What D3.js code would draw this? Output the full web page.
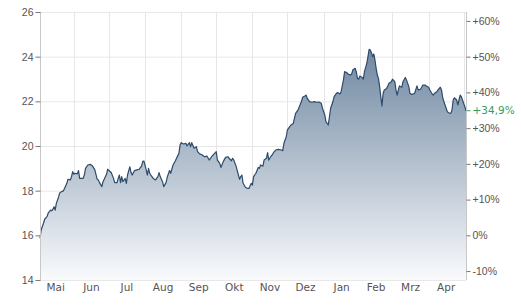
<!DOCTYPE html>
<html>
<head>
<meta charset="utf-8">
<script src="https://cdn.jsdelivr.net/npm/d3@7"></script>
<style>
	body { margin: 0; background: #fff; }
	svg { display: block; font-family: "DejaVu Sans", Verdana, sans-serif; }
</style>
</head>
<body>
<div id="chart"></div>
<script>
// 1 Jahr, Schlusskurse (Tage ab Start, Kurs)
var startDate = new Date(2012, 4, 3);
var basePrice = 16.0;
var closes = [
	[0,15.87],[1,16.24],[3,16.54],[4,16.72],[6,16.84],[7,16.99],[9,17.13],[10,17.10],[11,17.16],[12,17.28],
	[13,17.13],[14,17.43],[16,17.73],[17,17.91],[19,17.97],[20,17.99],[21,18.10],[23,18.33],[24,18.51],[26,18.48],
	[27,18.63],[28,18.85],[29,18.73],[30,18.78],[32,18.75],[33,18.90],[34,18.55],[37,18.55],[38,18.70],[39,19.00],
	[41,19.15],[43,19.18],[45,19.10],[47,18.93],[49,18.51],[50,18.48],[51,18.36],[53,18.18],[54,18.40],[57,18.73],
	[58,18.96],[59,18.90],[61,18.81],[63,18.55],[64,18.36],[66,18.36],[67,18.55],[68,18.70],[69,18.36],[70,18.63],
	[71,18.40],[73,18.55],[74,18.33],[75,18.70],[77,19.07],[78,18.81],[79,18.70],[81,18.90],[83,18.93],[85,18.96],
	[87,19.10],[88,19.30],[89,19.33],[91,18.93],[92,18.70],[93,19.00],[94,18.78],[95,18.70],[97,18.55],[99,18.48],
	[101,18.63],[102,18.81],[103,18.63],[105,18.40],[106,18.18],[108,18.36],[109,18.60],[111,18.90],[112,18.78],[114,19.15],
	[116,19.34],[117,19.45],[119,19.67],[120,20.04],[121,20.15],[123,20.09],[125,20.12],[126,20.00],[128,20.15],[129,19.97],
	[130,20.15],[132,19.90],[134,19.97],[135,19.75],[137,19.64],[139,19.60],[141,19.52],[143,19.55],[145,19.37],[147,19.52],
	[149,19.64],[151,19.75],[152,19.37],[154,19.22],[155,19.04],[157,19.30],[159,19.49],[161,19.52],[162,19.45],[164,19.34],
	[165,19.45],[166,19.37],[168,19.10],[169,18.90],[171,18.51],[172,18.63],[173,18.70],[174,18.33],[176,18.15],[178,18.10],
	[179,18.10],[181,18.33],[182,18.25],[183,18.63],[185,18.78],[187,19.04],[188,19.00],[189,19.15],[191,19.10],[192,19.37],
	[194,19.45],[195,19.70],[196,19.37],[198,19.55],[199,19.60],[200,19.70],[202,19.82],[204,19.85],[207,19.82],[208,19.79],
	[209,20.12],[211,20.42],[212,20.72],[214,20.87],[215,20.94],[217,21.01],[218,21.24],[219,21.46],[221,21.61],[222,21.73],
	[224,21.99],[225,22.18],[227,22.24],[228,22.28],[229,22.13],[231,21.99],[233,21.96],[235,21.99],[237,21.96],[239,21.97],
	[241,21.91],[242,21.69],[244,21.39],[245,21.09],[247,20.94],[248,21.31],[249,21.69],[251,21.99],[252,22.21],[254,22.36],
	[255,22.39],[257,22.33],[258,22.43],[260,22.96],[261,23.33],[263,23.28],[264,23.22],[266,23.18],[267,23.22],[268,23.40],
	[270,23.48],[271,23.33],[272,23.03],[273,22.99],[274,23.13],[276,23.07],[277,22.99],[278,23.33],[280,23.70],[281,24.00],
	[282,24.33],[283,24.30],[284,24.18],[285,24.00],[286,24.12],[287,23.85],[288,23.48],[289,23.18],[290,23.03],[291,22.66],
	[292,22.21],[293,21.79],[294,22.36],[295,22.51],[297,22.58],[298,22.69],[299,22.81],[301,22.88],[302,22.99],[304,22.88],
	[305,22.51],[306,22.28],[307,22.51],[308,22.69],[310,22.63],[311,22.88],[313,23.07],[314,22.96],[316,22.66],[317,22.36],
	[318,22.31],[320,22.33],[321,22.36],[323,22.69],[324,22.51],[326,22.54],[327,22.63],[328,22.73],[330,22.73],[331,22.69],
	[333,22.63],[334,22.51],[336,22.33],[337,22.28],[338,22.36],[340,22.43],[341,22.51],[343,22.63],[344,22.51],[345,22.18],
	[346,21.99],[348,21.69],[349,21.54],[350,21.49],[352,21.46],[353,21.61],[354,22.06],[355,22.16],[357,22.06],[358,21.84],
	[359,22.06],[360,22.28],[361,22.21],[362,22.06],[363,21.91],[364,21.76],[365,21.58]
];
var monthLabels = ["Mai","Jun","Jul","Aug","Sep","Okt","Nov","Dez","Jan","Feb","Mrz","Apr"];
var priceTicks = [14, 16, 18, 20, 22, 24, 26];
var pctTicks = [-0.1, 0, 0.1, 0.2, 0.3, 0.4, 0.5, 0.6];

+function(){
	var W = 521, H = 305;
	var left = 40, right = 466, top = 12, bottom = 280;

	var data = closes.map(function(d){
		return { date: d3.timeDay.offset(startDate, d[0]), close: d[1] };
	});
	var endDate = data[data.length - 1].date;

	var x = d3.scaleTime().domain([startDate, endDate]).range([left, right]);
	var y = d3.scaleLinear().domain([14, 26]).range([bottom, top]);
	var yPct = d3.scaleLinear().domain([14 / basePrice - 1, 26 / basePrice - 1]).range([bottom, top]);

	var svg = d3.select('#chart').append('svg').attr('width', W).attr('height', H);

	var grad = svg.append('defs').append('linearGradient')
		.attr('id', 'fillGrad').attr('x1', 0).attr('y1', 0).attr('x2', 0).attr('y2', 1);
	grad.append('stop').attr('offset', '0%').attr('stop-color', '#7088a2');
	grad.append('stop').attr('offset', '100%').attr('stop-color', '#f9fafc');

	// grid
	svg.append('g').selectAll('line').data(priceTicks).enter().append('line')
		.attr('x1', left).attr('x2', right)
		.attr('y1', function(d){ return y(d) + 0.5; }).attr('y2', function(d){ return y(d) + 0.5; })
		.attr('stroke', '#e8e8e8');

	var monthStarts = d3.timeMonth.range(d3.timeMonth.ceil(d3.timeDay.offset(startDate, 1)), endDate);
	svg.append('g').selectAll('line').data(monthStarts).enter().append('line')
		.attr('x1', function(d){ return Math.round(x(d)) + 0.5; }).attr('x2', function(d){ return Math.round(x(d)) + 0.5; })
		.attr('y1', top).attr('y2', bottom)
		.attr('stroke', '#e6e6e6');

	// area + line
	var area = d3.area()
		.x(function(d){ return x(d.date); })
		.y0(bottom)
		.y1(function(d){ return y(d.close); });
	var line = d3.line()
		.x(function(d){ return x(d.date); })
		.y(function(d){ return y(d.close); });

	svg.append('path').datum(data).attr('d', area).attr('fill', 'url(#fillGrad)');
	svg.append('path').datum(data).attr('d', line)
		.attr('fill', 'none').attr('stroke', '#2d4a6b').attr('stroke-width', 1.2)
		.attr('stroke-linejoin', 'round');

	// left axis
	var gl = svg.append('g').attr('transform', 'translate(' + (left + 0.5) + ',0)')
		.call(d3.axisLeft(y).tickValues(priceTicks).tickSize(5).tickPadding(2).tickFormat(d3.format('d')));
	gl.select('.domain').attr('stroke', '#c8c8c8').attr('d', 'M0,' + top + 'V' + bottom);
	gl.selectAll('.tick line').attr('stroke', '#777');
	gl.selectAll('.tick text').attr('fill', '#555').style('font-size', '10.5px');

	// right axis (% vs. base)
	var pctFmt = function(p){
		var v = Math.round(p * 100);
		return (v > 0 ? '+' : '') + v + '%';
	};
	var gr = svg.append('g').attr('transform', 'translate(' + (right + 0.5) + ',0)')
		.call(d3.axisRight(yPct).tickValues(pctTicks).tickSize(4).tickPadding(2).tickFormat(pctFmt));
	gr.select('.domain').attr('stroke', '#c8c8c8').attr('d', 'M0,' + top + 'V' + bottom);
	gr.selectAll('.tick line').attr('stroke', '#777');
	gr.selectAll('.tick text').attr('fill', '#555').style('font-size', '10.5px');

	// aktueller Wert
	var last = data[data.length - 1];
	var lastPct = last.close / basePrice - 1;
	var lastTxt = '+' + d3.format('.1f')(lastPct * 100).replace('.', ',') + '%';
	var gc = svg.append('g').attr('transform', 'translate(' + (right + 0.5) + ',' + y(last.close) + ')');
	gc.append('line').attr('x1', 0).attr('x2', 4).attr('stroke', '#3b9a5c');
	gc.append('text').attr('x', 6).attr('dy', '0.32em')
		.attr('fill', '#3b9a5c').style('font-size', '10.5px').text(lastTxt);

	// month labels (mid of month)
	var monthMids = monthLabels.map(function(m, i){
		var s = d3.timeMonth.offset(new Date(2012, 4, 1), i);
		var e = d3.timeMonth.offset(s, 1);
		return { label: m, x: (x(s) + x(e)) / 2 };
	});
	svg.append('g').selectAll('text').data(monthMids).enter().append('text')
		.attr('x', function(d){ return d.x; }).attr('y', 291)
		.attr('text-anchor', 'middle').attr('fill', '#555').style('font-size', '10.5px')
		.text(function(d){ return d.label; });
}();
</script>
</body>
</html>
